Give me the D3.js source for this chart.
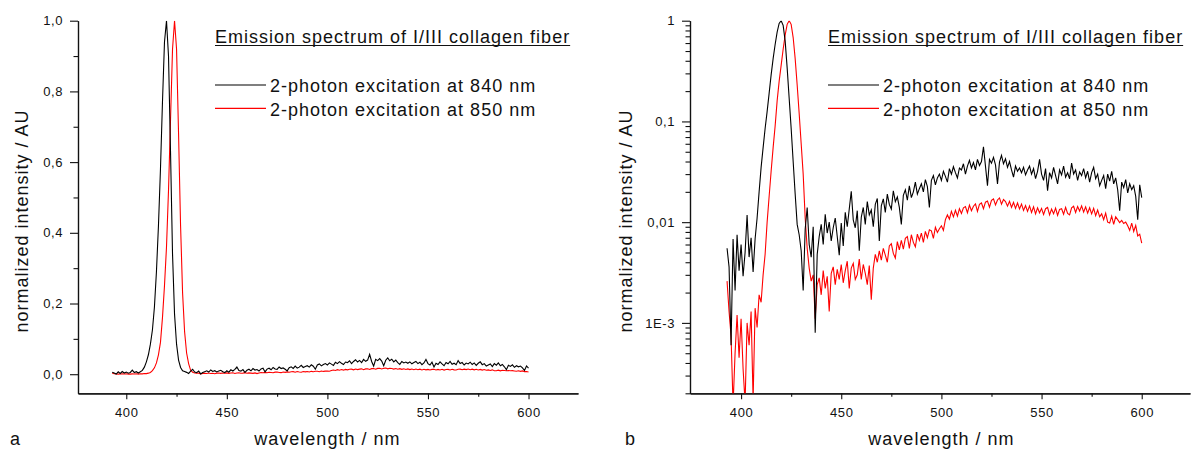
<!DOCTYPE html>
<html>
<head>
<meta charset="utf-8">
<script src="https://cdn.jsdelivr.net/npm/d3@7"></script>
<style>
    body { margin: 0; background: #fff; }
    svg { display: block; font-family: "Liberation Sans", Arial, sans-serif; }
    .tick text { font-size: 13px; letter-spacing: 0.6px; fill: #111; }
    .axis path, .axis line { stroke: #111; }
    .label { font-size: 18px; letter-spacing: 1px; fill: #111; }
</style>
</head>
<body>
<div id="chart"></div>
<script>
// wavelength grid (nm)
const wavelengths = [
    393, 394, 395, 396, 397, 398, 399,
    400, 401, 402, 403, 404, 405, 406, 407, 408, 409,
    410, 411, 412, 413, 414, 415, 416, 417, 418, 419,
    420, 421, 422, 423, 424, 425, 426, 427, 428, 429,
    430, 431, 432, 433, 434, 435, 436, 437, 438, 439,
    440, 441, 442, 443, 444, 445, 446, 447, 448, 449,
    450, 451, 452, 453, 454, 455, 456, 457, 458, 459,
    460, 461, 462, 463, 464, 465, 466, 467, 468, 469,
    470, 471, 472, 473, 474, 475, 476, 477, 478, 479,
    480, 481, 482, 483, 484, 485, 486, 487, 488, 489,
    490, 491, 492, 493, 494, 495, 496, 497, 498, 499,
    500, 501, 502, 503, 504, 505, 506, 507, 508, 509,
    510, 511, 512, 513, 514, 515, 516, 517, 518, 519,
    520, 521, 522, 523, 524, 525, 526, 527, 528, 529,
    530, 531, 532, 533, 534, 535, 536, 537, 538, 539,
    540, 541, 542, 543, 544, 545, 546, 547, 548, 549,
    550, 551, 552, 553, 554, 555, 556, 557, 558, 559,
    560, 561, 562, 563, 564, 565, 566, 567, 568, 569,
    570, 571, 572, 573, 574, 575, 576, 577, 578, 579,
    580, 581, 582, 583, 584, 585, 586, 587, 588, 589,
    590, 591, 592, 593, 594, 595, 596, 597, 598, 599,
    600
];

// normalized intensity, 2-photon excitation at 840 nm
const exc840 = [
    0.0055, 0.0036, 0.0006, 0.0068, 0.0021, 0.0075, 0.0033,
    0.0060, 0.0029, 0.0050, 0.0118, 0.0045, 0.0070, 0.0032, 0.0068, 0.011, 0.020,
    0.035, 0.055, 0.085, 0.125, 0.19, 0.29, 0.42, 0.58, 0.77, 0.94,
    1.0, 0.90, 0.63, 0.34, 0.17, 0.085, 0.040, 0.019, 0.0095, 0.0075,
    0.0052, 0.0021, 0.0085, 0.0140, 0.0060, 0.0045, 0.0090, 0.0008, 0.0048, 0.0072,
    0.0095, 0.0060, 0.0120, 0.0078, 0.0100, 0.0065, 0.0088, 0.0110, 0.0072, 0.0047,
    0.0098, 0.0058, 0.0125, 0.0090, 0.0135, 0.0203, 0.0105, 0.0088, 0.0130, 0.0052,
    0.0112, 0.0140, 0.0095, 0.0160, 0.0118, 0.0132, 0.0090, 0.0150, 0.0172, 0.0065,
    0.0145, 0.0170, 0.0125, 0.0190, 0.0150, 0.0135, 0.0205, 0.0160, 0.0178, 0.0140,
    0.0095, 0.0185, 0.0210, 0.0165, 0.0230, 0.0175, 0.0200, 0.0250, 0.0190, 0.0215,
    0.0240, 0.0200, 0.0265, 0.0225, 0.0140, 0.0260, 0.0290, 0.0235, 0.0275, 0.0300,
    0.0260, 0.0320, 0.0285, 0.0250, 0.0340, 0.0300, 0.0355, 0.0310, 0.0275, 0.0345,
    0.0330, 0.0380, 0.0300, 0.0360, 0.0410, 0.0345, 0.0390, 0.0330, 0.0420, 0.0365,
    0.0400, 0.0560, 0.0360, 0.0230, 0.0420, 0.0385, 0.0440, 0.0370, 0.0240, 0.0395,
    0.0460, 0.0380, 0.0425, 0.0350, 0.0400, 0.0330, 0.0280, 0.0360, 0.0320, 0.0345,
    0.0310, 0.0350, 0.0295, 0.0330, 0.0360, 0.0300, 0.0340, 0.0270, 0.0320, 0.0420,
    0.0300, 0.0260, 0.0340, 0.0205, 0.0310, 0.0275, 0.0350, 0.0290, 0.0240, 0.0330,
    0.0295, 0.0360, 0.0280, 0.0310, 0.0270, 0.0385, 0.0300, 0.0330, 0.0260, 0.0315,
    0.0290, 0.0340, 0.0275, 0.0320, 0.0250, 0.0310, 0.0350, 0.0270, 0.0300, 0.0230,
    0.0260, 0.0290, 0.0215, 0.0300, 0.0255, 0.0320, 0.0240, 0.0275, 0.0210, 0.0130,
    0.0250, 0.0220, 0.0265, 0.0195, 0.0240, 0.0210, 0.0230, 0.0180, 0.0106, 0.0235,
    0.0175
];

// normalized intensity, 2-photon excitation at 850 nm
const exc850 = [
    0.0026, 0.0013, 0.00074, 0.00015, 0.0005, 0.0012, 0.00045,
    0.0011, 0.00035, 0.00016, 0.0010, 0.0006, 0.0013, 0.00017, 0.0014, 0.0009, 0.0019,
    0.0016, 0.0030, 0.0048, 0.010, 0.018, 0.032, 0.055, 0.09, 0.16, 0.25,
    0.36, 0.52, 0.72, 0.92, 1.0, 0.92, 0.68, 0.42, 0.23, 0.12,
    0.06, 0.03, 0.011, 0.0055, 0.0035, 0.0026, 0.0030, 0.0011, 0.0024, 0.0028,
    0.0019, 0.0033, 0.0022, 0.0029, 0.0013, 0.0031, 0.0036, 0.0024, 0.0034, 0.0027,
    0.0038, 0.0025, 0.0033, 0.0041, 0.0022, 0.0035, 0.0039, 0.0027, 0.0030, 0.0043,
    0.0027, 0.0038, 0.0031, 0.0024, 0.0037, 0.0017, 0.0035, 0.0048, 0.0040, 0.0052,
    0.0042, 0.0055, 0.0047, 0.0040, 0.0058, 0.0061, 0.0049, 0.0044, 0.0064, 0.0053,
    0.0066, 0.0054, 0.0069, 0.0072, 0.0055, 0.0075, 0.0063, 0.0057, 0.0076, 0.0066,
    0.0078, 0.0063, 0.0081, 0.0070, 0.0084, 0.0082, 0.0069, 0.0089, 0.0079, 0.0086,
    0.0092, 0.0083, 0.0106, 0.0118, 0.0107, 0.0128, 0.0113, 0.0131, 0.0115, 0.0136,
    0.0122, 0.0139, 0.0143, 0.0124, 0.0148, 0.0130, 0.0144, 0.0152, 0.0128, 0.0150,
    0.0155, 0.0136, 0.0158, 0.0162, 0.0141, 0.0165, 0.0170, 0.0148, 0.0166, 0.0174,
    0.0151, 0.0168, 0.0160, 0.0144, 0.0161, 0.0140, 0.0157, 0.0137, 0.0155, 0.0135,
    0.0151, 0.0131, 0.0146, 0.0128, 0.0145, 0.0125, 0.0142, 0.0121, 0.0139, 0.0124,
    0.0137, 0.0119, 0.0136, 0.0140, 0.0118, 0.0135, 0.0121, 0.0138, 0.0117, 0.0134,
    0.0136, 0.0120, 0.0140, 0.0122, 0.0118, 0.0139, 0.0144, 0.0125, 0.0143, 0.0129,
    0.0145, 0.0126, 0.0142, 0.0123, 0.0139, 0.0121, 0.0137, 0.0116, 0.0132, 0.0113,
    0.0121, 0.0106, 0.0123, 0.0100, 0.0098, 0.0115, 0.0095, 0.0113, 0.0106, 0.0099,
    0.0104, 0.0097, 0.0100, 0.0092, 0.0083, 0.0098, 0.0081, 0.0093, 0.0073, 0.0076,
    0.0062
];

const seriesNames = ["2-photon excitation at 840 nm", "2-photon excitation at 850 nm"];
const seriesColors = ["#000000", "#ff0000"];
const legendTitle = "Emission spectrum of I/III collagen fiber";

const xTicks = [400, 450, 500, 550, 600];
const xMinorTicks = [425, 475, 525, 575];
const linTicks = [0, 0.2, 0.4, 0.6, 0.8, 1.0];
const linMinorTicks = [0.1, 0.3, 0.5, 0.7, 0.9];
const logTicks = [0.001, 0.01, 0.1, 1];
const logTickLabels = ["1E-3", "0,01", "0,1", "1"];
const logMinorTicks = [
    0.0002, 0.0003, 0.0004, 0.0005, 0.0006, 0.0007, 0.0008, 0.0009,
    0.002, 0.003, 0.004, 0.005, 0.006, 0.007, 0.008, 0.009,
    0.02, 0.03, 0.04, 0.05, 0.06, 0.07, 0.08, 0.09,
    0.2, 0.3, 0.4, 0.5, 0.6, 0.7, 0.8, 0.9
];

function SpectrumPanel(svg, opts){
    this.svg = svg;
    this.opts = opts;
    this.g = null;
    this.axis = {};
}

SpectrumPanel.prototype = {
    constructor: SpectrumPanel,

    init: function(){
        var self = this,
            o = self.opts;

        self.g = self.svg.append("g").attr("transform", "translate(" + o.left + "," + o.top + ")");

        self.axis.x = d3.scaleLinear().domain(o.xDomain).range([0, o.width]);
        if (o.log)
            self.axis.y = d3.scaleLog().domain(o.yDomain).range([o.height, 0]);
        else
            self.axis.y = d3.scaleLinear().domain(o.yDomain).range([o.height, 0]);

        self.g.append("clipPath").attr("id", o.id + "-clip")
            .append("rect").attr("width", o.width).attr("height", o.height);

        self.drawAxes();
        self.drawLines();
        self.drawLegend();
    },

    drawAxes: function(){
        var self = this,
            o = self.opts;

        // x axis
        self.g.append("g")
            .attr("class", "x axis")
            .attr("transform", "translate(0," + o.height + ")")
            .call(d3.axisBottom(self.axis.x).tickValues(xTicks).tickSize(6).tickSizeOuter(0).tickPadding(8)
                .tickFormat(d3.format("d")));
        self.g.append("g")
            .attr("class", "x axis minor")
            .attr("transform", "translate(0," + o.height + ")")
            .call(d3.axisBottom(self.axis.x).tickValues(xMinorTicks).tickSize(3.5).tickSizeOuter(0).tickFormat(""));

        // y axis
        var yMajor = d3.axisLeft(self.axis.y).tickValues(o.log ? logTicks : linTicks)
            .tickSize(8).tickSizeOuter(0).tickPadding(7);
        if (o.log)
            yMajor.tickFormat(function(d, i){ return logTickLabels[i]; });
        else
            yMajor.tickFormat(function(d){ return d3.format(".1f")(d).replace(".", ","); });

        self.g.append("g").attr("class", "y axis").call(yMajor);
        self.g.append("g")
            .attr("class", "y axis minor")
            .call(d3.axisLeft(self.axis.y).tickValues(o.log ? logMinorTicks : linMinorTicks)
                .tickSize(4.5).tickSizeOuter(0).tickFormat(""));

        self.g.selectAll(".axis .domain").attr("stroke-width", 1.2);
        self.g.selectAll(".axis .tick line").attr("stroke-width", 1.1);

        // titles
        self.g.append("text")
            .attr("class", "label")
            .attr("x", self.axis.x(500))
            .attr("y", 445 - o.top)
            .style("text-anchor", "middle")
            .text("wavelength / nm");

        self.g.append("text")
            .attr("class", "label")
            .attr("transform", "translate(" + (o.yTitleX - o.left) + "," + (221 - o.top) + ") rotate(-90)")
            .style("text-anchor", "middle")
            .text("normalized intensity / AU");

        self.svg.append("text")
            .attr("class", "label")
            .attr("x", o.tag.x)
            .attr("y", 445)
            .text(o.tag.text);
    },

    drawLines: function(){
        var self = this,
            o = self.opts;

        var line = d3.line()
            .x(function(d, i){ return self.axis.x(wavelengths[i]); })
            .y(function(d){ return self.axis.y(d); });

        var plot = self.g.append("g").attr("clip-path", "url(#" + o.id + "-clip)");

        // red first so the black trace sits on top where they overlap
        [exc850, exc840].forEach(function(values){
            plot.append("path")
                .datum(values)
                .attr("fill", "none")
                .attr("stroke", values === exc840 ? seriesColors[0] : seriesColors[1])
                .attr("stroke-width", 1.1)
                .attr("d", line);
        });
    },

    drawLegend: function(){
        var self = this,
            o = self.opts,
            lx = o.legendX - o.left;

        var title = self.g.append("text")
            .attr("class", "label")
            .attr("x", lx)
            .attr("y", 43 - o.top)
            .text(legendTitle);
        var w = title.node().getComputedTextLength();
        self.g.append("line")
            .attr("x1", lx).attr("x2", lx + w)
            .attr("y1", 45.5 - o.top).attr("y2", 45.5 - o.top)
            .attr("stroke", "#111").attr("stroke-width", 1);

        seriesNames.forEach(function(name, i){
            var y = 85 + i * 23.3 - o.top;
            self.g.append("line")
                .attr("x1", lx).attr("x2", lx + 51)
                .attr("y1", y).attr("y2", y)
                .attr("stroke", seriesColors[i]).attr("stroke-width", 1.2);
            self.g.append("text")
                .attr("class", "label")
                .attr("x", lx + 55)
                .attr("y", y + 7.5)
                .text(name);
        });
    }
};

var svg = d3.select("#chart").append("svg")
    .attr("width", 1192)
    .attr("height", 452);

new SpectrumPanel(svg, {
    id: "lin", log: false,
    left: 78, top: 20.7, width: 500, height: 372.6,
    xDomain: [376, 624.6], yDomain: [-0.054, 1.0],
    yTitleX: 28, legendX: 215, tag: { x: 10, text: "a" }
}).init();

new SpectrumPanel(svg, {
    id: "log", log: true,
    left: 690, top: 20.7, width: 500, height: 372.6,
    xDomain: [374.5, 624.1], yDomain: [0.0002, 1],
    yTitleX: 632, legendX: 828, tag: { x: 625, text: "b" }
}).init();
</script>
</body>
</html>
